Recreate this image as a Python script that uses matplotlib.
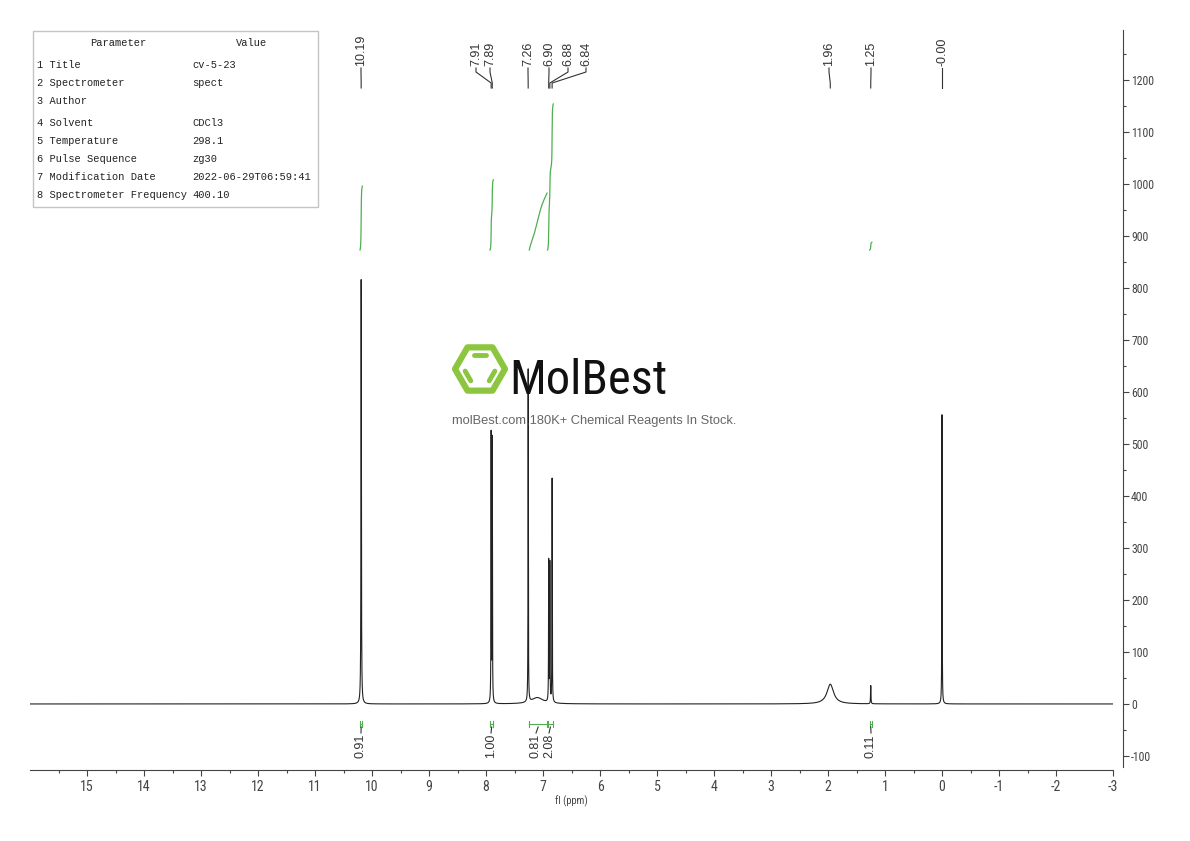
import numpy as np
import matplotlib
matplotlib.use('Agg')
import matplotlib.pyplot as plt
from matplotlib.transforms import blended_transform_factory
from matplotlib.patches import Polygon, Rectangle
from matplotlib.ticker import FixedLocator
from matplotlib import font_manager

# ---------------- data ----------------
line_ppm = [10.19, 7.91, 7.89, 7.26, 6.90, 6.88, 6.84, 7.10, 1.96, 1.25, 0.00]
line_height = [816, 515, 505, 640, 270, 265, 430, 12, 38, 35, 556]
line_hwhm = [0.004, 0.003, 0.003, 0.003, 0.003, 0.003, 0.003, 0.12, 0.07, 0.004, 0.003]

peak_labels = ['10.19', '7.91', '7.89', '7.26', '6.90', '6.88', '6.84', '1.96', '1.25', '-0.00']
peak_label_ppm = [10.19, 7.91, 7.89, 7.26, 6.90, 6.88, 6.84, 1.96, 1.25, 0.00]

integral_start = [10.21, 7.93, 7.24, 6.92, 1.27]
integral_end = [10.17, 7.87, 6.93, 6.82, 1.23]
integral_values = [0.91, 1.00, 0.81, 2.08, 0.11]

param_names = ['1 Title', '2 Spectrometer', '3 Author', '4 Solvent', '5 Temperature',
               '6 Pulse Sequence', '7 Modification Date', '8 Spectrometer Frequency']
param_values = ['cv-5-23', 'spect', '', 'CDCl3', '298.1', 'zg30',
                '2022-06-29T06:59:41', '400.10']

x_major = list(range(15, -4, -1))
y_major = list(range(-100, 1300, 100))

# ---------------- layout / style ----------------
W, H = 1190, 841
peak_label_px = [361, 476, 490, 528, 549, 568, 586, 829, 871, 942]
integral_label_px = [361, 491, 536, 549, 871]
param_row_py = [65, 83, 101, 123, 141, 159, 177, 195]
integral_base = 873
integral_scale = 135
green = '#4fae4f'

avail = {f.name for f in font_manager.fontManager.ttflist}
cond_fam = None
for cand in ['Roboto Condensed', 'Open Sans Condensed', 'Liberation Sans Narrow',
             'DejaVu Sans Condensed']:
    if cand in avail:
        cond_fam = cand
        break
if cond_fam is None:
    cond_props = dict(family=['DejaVu Sans'], stretch='condensed')
else:
    cond_props = dict(family=[cond_fam, 'DejaVu Sans'])
mono = ['Liberation Mono', 'DejaVu Sans Mono']

fig = plt.figure(figsize=(W / 100, H / 100), dpi=100)
ax = fig.add_axes([30 / W, 1 - 770 / H, (1113 - 30) / W, 740 / H])
ov = fig.add_axes([0, 0, 1, 1], zorder=5)
ov.set_xlim(0, W)
ov.set_ylim(H, 0)
ov.axis('off')
ov.patch.set_alpha(0)

# spectrum
ppm = np.linspace(16, -3, 38001)
spec = np.zeros_like(ppm)
for c, h, w in zip(line_ppm, line_height, line_hwhm):
    spec += h / (1 + ((ppm - c) / w) ** 2)
ax.plot(ppm, spec, color='#222222', lw=0.8)

ax.set_xlim(16, -3)
ax.set_ylim(-127, 1296)
for s in ['top', 'left']:
    ax.spines[s].set_visible(False)
ax.spines['right'].set_position(('outward', 7))
ax.spines['right'].set_bounds(-121, 1296)
ax.spines['bottom'].set_color('#444444')
ax.spines['right'].set_color('#444444')
ax.yaxis.tick_right()
ax.xaxis.set_major_locator(FixedLocator(x_major))
ax.xaxis.set_minor_locator(FixedLocator([v + 0.5 for v in x_major[:-1]]))
ax.yaxis.set_major_locator(FixedLocator(y_major))
ax.yaxis.set_minor_locator(FixedLocator([v + 50 for v in y_major]))
ax.set_xticklabels([str(v) for v in x_major])
ax.set_yticklabels([str(v) for v in y_major])
ax.tick_params(axis='both', which='major', length=4, width=0.8, color='#444444',
               labelcolor='#444444')
ax.tick_params(axis='both', which='minor', length=2.5, width=0.8, color='#444444')
ax.tick_params(axis='x', pad=3, labelsize=10)
ax.tick_params(axis='y', pad=2, labelsize=8.5)
for lab in ax.get_xticklabels() + ax.get_yticklabels():
    lab.set_family(cond_props['family'])
    if 'stretch' in cond_props:
        lab.set_stretch(cond_props['stretch'])
ax.set_xlabel('fl (ppm)', fontsize=7.5, color='#444444', labelpad=1, **cond_props)

# blended transform: x in ppm, y in pixels
bt = blended_transform_factory(ax.transData, ov.transData)
px2ppm = lambda px: ax.transData.inverted().transform(ov.transData.transform((px, 0)))[0]

# peak labels
for lab, p, lx in zip(peak_labels, peak_label_ppm, peak_label_px):
    lp = px2ppm(lx)
    ax.text(lp, 66, lab, transform=bt, rotation=90, ha='center', va='bottom',
            fontsize=9, color='#333333', family=['Liberation Sans', 'DejaVu Sans'],
            clip_on=False)
    ax.plot([lp, lp, p, p], [68, 72, 83, 88], transform=bt, color='#333333',
            lw=0.8, clip_on=False)

# integrals
for s, e, v, lx in zip(integral_start, integral_end, integral_values, integral_label_px):
    m = (ppm <= s) & (ppm >= e)
    cum = np.cumsum(spec[m])
    cum = (cum - cum[0]) / (cum[-1] - cum[0])
    ax.plot(ppm[m], integral_base + cum * v * integral_scale, color=green, lw=0.9)
    ax.plot([s, e], [724, 724], transform=bt, color=green, lw=0.8, clip_on=False)
    ax.plot([s, s], [721, 727], transform=bt, color=green, lw=0.8, clip_on=False)
    ax.plot([e, e], [721, 727], transform=bt, color=green, lw=0.8, clip_on=False)
    lp = px2ppm(lx)
    mid = (s + e) / 2
    ax.plot([mid, lp], [727, 733], transform=bt, color='#333333', lw=0.8, clip_on=False)
    ax.text(lp, 734, f'{v:.2f}', transform=bt, rotation=90, ha='center', va='top',
            fontsize=9, color='#333333', family=['Liberation Sans', 'DejaVu Sans'],
            clip_on=False)

# parameter table
fs_tab = 7.5
ov.add_patch(Rectangle((33, 31), 285, 176, fill=False, ec='#c4c4c4', lw=1))
ov.text(118, 43, 'Parameter', ha='center', va='center', fontsize=fs_tab, family=mono, color='#222222')
ov.text(252, 43, 'Value', ha='center', va='center', fontsize=fs_tab, family=mono, color='#222222')
for n, v, py in zip(param_names, param_values, param_row_py):
    ov.text(37, py, n, ha='left', va='center', fontsize=fs_tab, family=mono, color='#222222')
    ov.text(192, py, v, ha='left', va='center', fontsize=fs_tab, family=mono, color='#222222')

# logo
cx, cy, R = 480, 369, 25
hexv = [(cx + R * np.cos(np.radians(a)), cy + R * np.sin(np.radians(a))) for a in range(0, 360, 60)]
ov.add_patch(Polygon(hexv, closed=True, fill=False, ec='#8cc63f', lw=4.5, joinstyle='round'))
r2 = 15
for a1, a2 in [(240, 300), (120, 180), (0, 60)]:
    p1 = (cx + r2 * np.cos(np.radians(a1 + 8)), cy + r2 * np.sin(np.radians(a1 + 8)))
    p2 = (cx + r2 * np.cos(np.radians(a2 - 8)), cy + r2 * np.sin(np.radians(a2 - 8)))
    ov.plot([p1[0], p2[0]], [p1[1], p2[1]], color='#8cc63f', lw=3.5, solid_capstyle='round')
ov.text(509, 394, 'MolBest', ha='left', va='baseline', fontsize=35,
        color='#111111', **cond_props)
ov.text(594, 421, 'molBest.com,180K+ Chemical Reagents In Stock.', ha='center', va='center',
        fontsize=9.3, family=['Liberation Sans', 'DejaVu Sans'], color='#666666')

fig.savefig('out.png', dpi=100)
